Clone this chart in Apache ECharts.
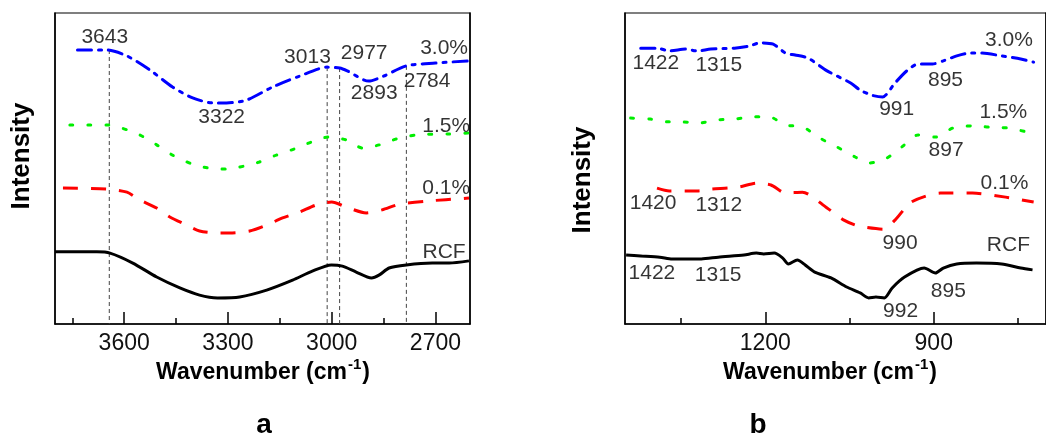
<!DOCTYPE html>
<html><head><meta charset="utf-8">
<script src="https://cdn.jsdelivr.net/npm/echarts@6/dist/echarts.min.js"></script>
<style>html,body{margin:0;padding:0;background:#fff}#c{width:1046px;height:434px}</style>
</head><body><div id="c"></div>
<script>
const FONT = '"Liberation Sans", Arial, Helvetica, sans-serif';

// ---------- Panel a (3800-2600 cm-1) ----------
const aTickLabels = [3600, 3300, 3000, 2700];
const aMinorTicks = [3750, 3450, 3150, 2850];
const a_30 = [[3735,88.1],[3650,88.1],[3592,86.2],[3526,81.7],[3460,76.2],[3402,72.7],[3344,71.1],[3304,71.1],[3246,72.0],[3171,76.2],[3093,79.7],[3013,82.6],[2977,82.3],[2955,81.4],[2893,78.1],[2850,79.7],[2784,83.0],[2700,83.9],[2603,84.6]];
const a_15 = [[3757,64.0],[3705,64.0],[3650,64.0],[3607,63.0],[3555,60.8],[3506,57.6],[3460,54.3],[3405,51.5],[3359,50.2],[3304,49.8],[3252,50.8],[3209,52.1],[3160,54.3],[3108,56.3],[3059,58.5],[3010,60.1],[2958,59.2],[2911,56.6],[2862,57.6],[2813,59.5],[2756,60.8],[2660,61.1],[2606,61.4]];
const a_01 = [[3777,43.7],[3650,43.4],[3592,42.4],[3555,39.9],[3506,37.3],[3468,34.4],[3419,31.8],[3382,29.9],[3333,29.3],[3295,29.3],[3237,29.9],[3188,31.8],[3142,34.1],[3093,36.0],[3044,38.3],[3000,39.2],[2958,37.6],[2900,35.7],[2854,36.7],[2805,38.5],[2727,39.5],[2603,40.5]];
const a_rcf = [[3800,23.2],[3679,23.2],[3641,22.8],[3575,19.6],[3506,15.1],[3439,11.6],[3382,9.3],[3330,8.4],[3266,8.7],[3188,10.9],[3113,14.1],[3056,17.0],[3001,19.0],[2969,18.6],[2929,16.7],[2885,14.8],[2862,15.8],[2834,18.0],[2784,19.0],[2709,19.6],[2660,19.6],[2603,20.3]];
const aVlines = [3643, 3013, 2977, 2784];
const aVlineTops = [88.1, 82.6, 82.3, 83.0];
const aNotes = [[3656,92.3,'3643'],[3318,66.6,'3322'],[3070,85.9,'3013'],[2906,87.1,'2977'],[2877,74.3,'2893'],[2724,78.1,'2784'],[2675,88.7,'3.0%'],[2669,63.7,'1.5%'],[2669,43.7,'0.1%'],[2675,23.2,'RCF']];

// ---------- Panel b (1450-700 cm-1) ----------
const bTickLabels = [1200, 900];
const bMinorTicks = [1350, 1050, 750];
const b_30 = [[1422,88.7],[1393,88.7],[1371,87.8],[1341,88.4],[1322,87.8],[1297,88.4],[1255,88.7],[1228,89.4],[1210,90.4],[1186,90.0],[1164,87.1],[1147,86.5],[1124,85.5],[1090,81.4],[1048,77.5],[1031,75.2],[1009,73.5],[991,73.0],[969,77.5],[948,81.4],[928,83.6],[902,83.6],[883,84.6],[859,86.2],[836,87.1],[814,87.1],[779,86.2],[745,85.2],[722,84.2]];
const b_15 = [[1440,66.2],[1405,65.9],[1374,65.0],[1350,65.0],[1319,64.6],[1288,65.6],[1255,65.9],[1221,66.6],[1193,66.6],[1164,64.0],[1133,63.3],[1100,59.5],[1072,56.9],[1040,53.7],[1014,51.8],[986,53.1],[957,56.9],[928,60.8],[897,60.1],[866,63.0],[833,63.7],[802,63.3],[767,63.0],[733,61.7]];
const b_01 = [[1393,43.7],[1371,42.8],[1319,42.8],[1297,43.4],[1267,43.7],[1245,44.1],[1216,45.3],[1190,44.7],[1164,42.1],[1134,42.4],[1090,37.3],[1060,33.4],[1034,31.5],[990,30.5],[969,33.4],[940,39.2],[888,42.1],[831,42.1],[772,40.8],[722,39.2]];
const b_rcf = [[1448,22.2],[1422,21.9],[1388,21.5],[1366,20.9],[1314,20.9],[1284,21.5],[1238,22.2],[1216,22.8],[1203,22.5],[1184,22.8],[1169,21.2],[1159,19.3],[1143,20.6],[1129,19.0],[1112,16.7],[1083,14.8],[1055,11.9],[1031,10.0],[1016,8.4],[1003,8.7],[988,8.4],[974,11.6],[952,15.1],[917,18.0],[897,16.4],[883,18.0],[859,19.3],[824,19.6],[779,19.3],[745,18.0],[724,17.4]];
const bNotes = [[1395,83.9,'1422'],[1283,83.3,'1315'],[966,69.1,'991'],[879,78.5,'895'],[766,91.3,'3.0%'],[776,68.2,'1.5%'],[878,55.9,'897'],[774,45.3,'0.1%'],[1400,38.9,'1420'],[1283,38.3,'1312'],[960,26.0,'990'],[767,25.4,'RCF'],[1402,16.4,'1422'],[1284,15.8,'1315'],[959,4.2,'992'],[874,10.6,'895']];

const styles = {
  s30: {color:'#0000ff', width:3, type:[14,7,3,7], cap:'round'},
  s15: {color:'#00ee00', width:3, type:[3,15], cap:'round'},
  s01: {color:'#ff0000', width:3, type:[15,13]},
  rcf: {color:'#000000', width:3, type:'solid'}
};

function lineSeries(data, st, idx) {
  return {type:'line', data:data, xAxisIndex:idx, yAxisIndex:idx, showSymbol:false, smooth:0.25,
    lineStyle:{color:st.color, width:st.width, type:st.type, cap:st.cap||'butt'}, z:3, silent:true};
}
function notesSeries(notes, idx) {
  return {type:'scatter', xAxisIndex:idx, yAxisIndex:idx, symbolSize:0, silent:true, z:5,
    data: notes.map(n => ({value:[n[0], n[1]], name:n[2]})),
    label:{show:true, position:'inside', formatter:'{b}', fontSize:21, color:'#000', fontFamily:FONT}};
}
function vlineSeries(xs, tops, idx) {
  return xs.map((x,i) => ({type:'line', xAxisIndex:idx, yAxisIndex:idx, showSymbol:false, silent:true, z:2,
    data:[[x, tops[i]],[x, 0]], lineStyle:{color:'#444', width:1, type:[4,3]}}));
}
function xAxes(gi, min, max, labels, minor) {
  return [
    {type:'value', gridIndex:gi, position:'bottom', inverse:true, min:min, max:max, splitLine:{show:false},
     axisLine:{show:true, onZero:false, lineStyle:{color:'#000', width:1.5}},
     axisTick:{show:true, inside:true, length:12, customValues:labels, lineStyle:{color:'#000', width:1.5}},
     axisLabel:{show:true, customValues:labels, formatter:v => String(v), fontSize:23, color:'#111', fontFamily:FONT, margin:8}},
    {type:'value', gridIndex:gi, position:'bottom', inverse:true, min:min, max:max, splitLine:{show:false},
     axisLine:{show:false, onZero:false},
     axisTick:{show:true, inside:true, length:6, customValues:minor, lineStyle:{color:'#000', width:1.5}},
     axisLabel:{show:false}}
  ];
}
function yAx(gi) {
  return {type:'value', gridIndex:gi, min:0, max:100, splitLine:{show:false}, axisTick:{show:false},
    axisLabel:{show:false}, axisLine:{show:true, lineStyle:{color:'#000', width:1.5}}};
}

const chart = echarts.init(document.getElementById('c'), null, {renderer:'canvas'});
const xs = xAxes(0, 2600, 3800, aTickLabels, aMinorTicks).concat(xAxes(1, 700, 1450, bTickLabels, bMinorTicks));
// axis index mapping: 0 = a main, 1 = a minor, 2 = b main, 3 = b minor
const ys = [yAx(0), yAx(0), yAx(1), yAx(1)];

function panelSeries(s30, s15, s01, rcf, idx) {
  return [lineSeries(s30, styles.s30, idx), lineSeries(s15, styles.s15, idx),
          lineSeries(s01, styles.s01, idx), lineSeries(rcf, styles.rcf, idx)];
}

const titleStyle = {fill:'#000', fontFamily:FONT, fontWeight:'bold'};
const wnRich = {sup:{fontSize:15, fontWeight:'bold', fontFamily:FONT, padding:[0,1,16,1]}};

chart.setOption({
  animation:false,
  backgroundColor:'#fff',
  grid:[
    {left:55, top:13, width:415, height:311, show:true, borderColor:'#000', borderWidth:1.2, backgroundColor:'transparent'},
    {left:625, top:13, width:434, height:311, show:true, borderColor:'#000', borderWidth:1.2, backgroundColor:'transparent'}
  ],
  xAxis: xs,
  yAxis: ys,
  series: [].concat(
    vlineSeries(aVlines, aVlineTops, 0),
    panelSeries(a_30, a_15, a_01, a_rcf, 0),
    [notesSeries(aNotes, 0)],
    panelSeries(b_30, b_15, b_01, b_rcf, 2),
    [notesSeries(bNotes, 2)]
  ),
  graphic:[
    {type:'text', x:22, y:156, rotation:Math.PI/2, style:Object.assign({text:'Intensity', fontSize:26, textAlign:'center', textVerticalAlign:'middle'}, titleStyle)},
    {type:'text', x:583, y:180, rotation:Math.PI/2, style:Object.assign({text:'Intensity', fontSize:26, textAlign:'center', textVerticalAlign:'middle'}, titleStyle)},
    {type:'text', x:263, y:373, style:Object.assign({text:'Wavenumber (cm{sup|-1})', fontSize:23, textAlign:'center', textVerticalAlign:'middle', rich:wnRich}, titleStyle)},
    {type:'text', x:830, y:373, style:Object.assign({text:'Wavenumber (cm{sup|-1})', fontSize:23, textAlign:'center', textVerticalAlign:'middle', rich:wnRich}, titleStyle)},
    {type:'text', x:264, y:425, style:Object.assign({text:'a', fontSize:28, textAlign:'center', textVerticalAlign:'middle'}, titleStyle)},
    {type:'text', x:758, y:425, style:Object.assign({text:'b', fontSize:28, textAlign:'center', textVerticalAlign:'middle'}, titleStyle)}
  ]
});
</script>
</body></html>
